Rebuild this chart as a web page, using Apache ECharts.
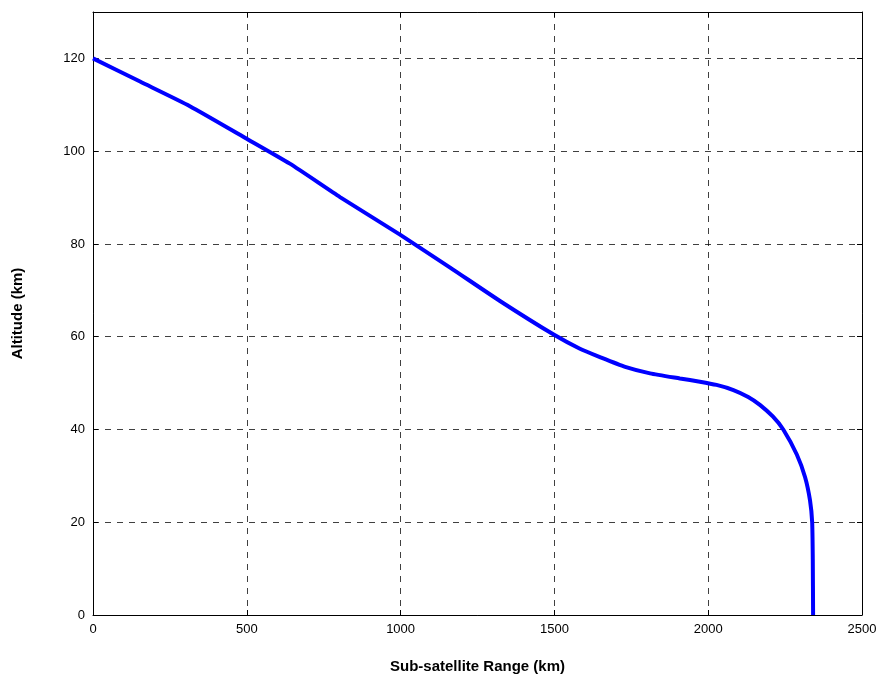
<!DOCTYPE html>
<html>
<head>
<meta charset="utf-8">
<script src="https://cdn.jsdelivr.net/npm/echarts@6/dist/echarts.min.js"></script>
<style>
  html, body { margin: 0; padding: 0; background: #fff; }
  #chart { width: 884px; height: 679px; }
</style>
</head>
<body>
<div id="chart"></div>
<script>
// Descent trajectory: altitude versus sub-satellite range
const rangeKm = [0, 153, 315, 494, 640, 803, 998, 1161, 1323, 1499, 1583, 1648, 1730, 1811, 1908, 1973, 2027, 2082, 2130, 2168, 2210, 2244, 2288, 2315, 2331, 2338, 2340, 2341];
const altitudeKm = [120, 115.0, 109.7, 102.9, 97.3, 90.1, 82.0, 74.9, 67.7, 60.4, 57.4, 55.6, 53.5, 52.1, 51.0, 50.3, 49.6, 48.5, 47.0, 45.3, 42.8, 40.0, 34.6, 29.7, 24.7, 20, 12, 0];
const xTicks = [0, 500, 1000, 1500, 2000, 2500];
const yTicks = [0, 20, 40, 60, 80, 100, 120];

const points = rangeKm.map((r, i) => [r, altitudeKm[i]]);

const font = 'Liberation Sans, Arial, sans-serif';
const gridLine = { show: true, lineStyle: { color: '#000', type: [6, 6], width: 1, opacity: 0.75 } };
const axisLine = { show: true, onZero: false, lineStyle: { color: '#000', width: 1 } };
const tick = { show: true, inside: true, length: 5, lineStyle: { color: '#000' } };

const chart = echarts.init(document.getElementById('chart'), null, { renderer: 'canvas' });
chart.setOption({
  animation: false,
  backgroundColor: '#fff',
  grid: { left: 93, right: 22, top: 12, bottom: 60, containLabel: false },
  xAxis: [{
    type: 'value', min: 0, max: 2500, interval: 500,
    name: 'Sub-satellite Range (km)', nameLocation: 'middle', nameGap: 44,
    nameTextStyle: { fontFamily: font, fontWeight: 'bold', fontSize: 15, color: '#000' },
    axisLine: axisLine, axisTick: tick,
    axisLabel: { fontFamily: font, fontSize: 13, color: '#000', margin: 8,
      formatter: v => xTicks.includes(v) ? String(v) : '' },
    splitLine: gridLine
  }, {
    type: 'value', position: 'top', min: 0, max: 2500, interval: 500,
    axisLine: axisLine, axisTick: tick,
    axisLabel: { show: false }, splitLine: { show: false }
  }],
  yAxis: [{
    type: 'value', min: 0, max: 130, interval: 20,
    name: 'Altitude (km)', nameLocation: 'middle', nameGap: 68, nameRotate: 90,
    nameTextStyle: { fontFamily: font, fontWeight: 'bold', fontSize: 15, color: '#000' },
    axisLine: axisLine, axisTick: tick,
    axisLabel: { fontFamily: font, fontSize: 13, color: '#000', margin: 8,
      formatter: v => yTicks.includes(v) ? String(v) : '' },
    splitLine: gridLine
  }, {
    type: 'value', position: 'right', min: 0, max: 130, interval: 20,
    axisLine: axisLine, axisTick: tick,
    axisLabel: { show: false }, splitLine: { show: false }
  }],
  series: [{
    type: 'line',
    data: points,
    xAxisIndex: 0, yAxisIndex: 0,
    showSymbol: false,
    smooth: 0.2,
    lineStyle: { color: '#0000ff', width: 4 }
  }]
});
</script>
</body>
</html>
